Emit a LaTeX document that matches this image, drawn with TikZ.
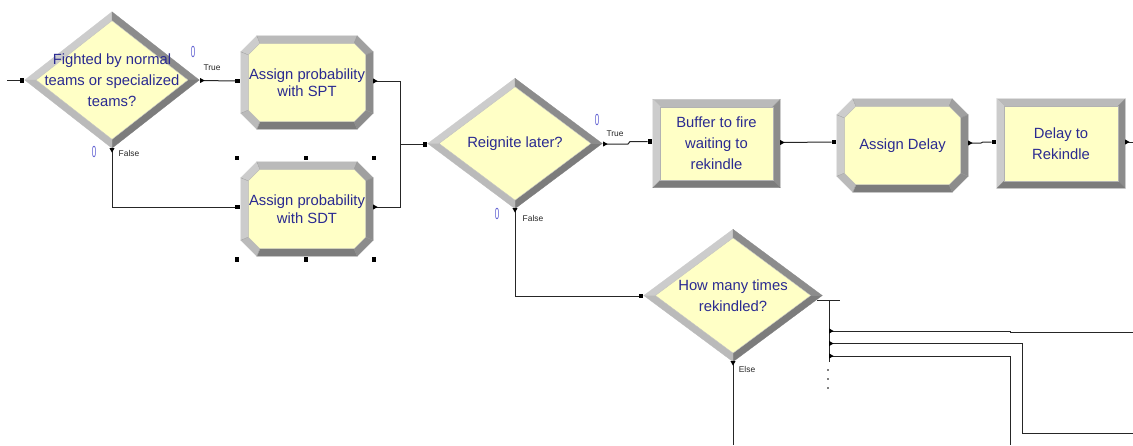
\documentclass[tikz,border=0pt]{standalone}
\usepackage{fontspec}
\setmainfont{Liberation Sans}
\usetikzlibrary{calc,backgrounds}

\definecolor{modfill}{RGB}{255,255,198}
\definecolor{modtext}{RGB}{42,42,145}
\definecolor{bvA}{RGB}{204,204,204}
\definecolor{bvB}{RGB}{186,186,186}
\definecolor{bvC}{RGB}{160,160,160}
\definecolor{bvD}{RGB}{140,140,140}
\definecolor{bvE}{RGB}{124,124,124}
\definecolor{cntcol}{RGB}{96,96,210}

% bevel widths
\def\bw{7.5}
\def\oc{16}
\def\oi{19.1}

\tikzset{
  module/.style={draw=none, inner sep=0pt, text=modtext, align=center,
                 font=\fontsize{14.8}{21}\selectfont},
  tight/.style={font=\fontsize{14.8}{17.5}\selectfont},
  face/.style={fill=#1, draw=#1, line width=0.3pt},
  entrypt/.style={fill=black, draw=none, minimum size=4.5pt, inner sep=0pt},
  handle/.style={fill=black, draw=none, minimum size=4.5pt, inner sep=0pt},
  link/.style={draw=black!85, line width=1pt},
  cnt/.style={text=cntcol, inner sep=0pt, font=\fontsize{16}{16}\selectfont},
  branch/.style={text=black!85, inner sep=0pt, font=\fontsize{8.4}{9}\selectfont},
  exitR/.pic={\fill[black] (0,-2.6) -- (4.6,0) -- (0,2.6) -- cycle;},
  exitD/.pic={\fill[black] (-2.6,0) -- (0,4.6) -- (2.6,0) -- cycle;},
}

% rectangular module frame
\newcommand{\rectbevel}[1]{%
  \coordinate (#1-a) at (#1.north west);
  \coordinate (#1-b) at (#1.north east);
  \coordinate (#1-c) at (#1.south east);
  \coordinate (#1-d) at (#1.south west);
  \coordinate (#1-ai) at ($(#1-a)+(\bw,\bw)$);
  \coordinate (#1-bi) at ($(#1-b)+(-\bw,\bw)$);
  \coordinate (#1-ci) at ($(#1-c)+(-\bw,-\bw)$);
  \coordinate (#1-di) at ($(#1-d)+(\bw,-\bw)$);
  \path[face=bvB] (#1-a) -- (#1-b) -- (#1-bi) -- (#1-ai) -- cycle;
  \path[face=bvA] (#1-a) -- (#1-ai) -- (#1-di) -- (#1-d) -- cycle;
  \path[face=bvD] (#1-b) -- (#1-c) -- (#1-ci) -- (#1-bi) -- cycle;
  \path[face=bvE] (#1-d) -- (#1-di) -- (#1-ci) -- (#1-c) -- cycle;
  \filldraw[fill=modfill, draw=black!30, line width=0.4pt]
    (#1-ai) rectangle (#1-ci);
}

% octagonal module frame
\newcommand{\octbevel}[1]{%
  \coordinate (#1-1) at ($(#1.north west)+(\oc,0)$);
  \coordinate (#1-2) at ($(#1.north east)+(-\oc,0)$);
  \coordinate (#1-3) at ($(#1.north east)+(0,\oc)$);
  \coordinate (#1-4) at ($(#1.south east)+(0,-\oc)$);
  \coordinate (#1-5) at ($(#1.south east)+(-\oc,0)$);
  \coordinate (#1-6) at ($(#1.south west)+(\oc,0)$);
  \coordinate (#1-7) at ($(#1.south west)+(0,-\oc)$);
  \coordinate (#1-8) at ($(#1.north west)+(0,\oc)$);
  \coordinate (#1-1i) at ($(#1.north west)+(\oi,\bw)$);
  \coordinate (#1-2i) at ($(#1.north east)+(-\oi,\bw)$);
  \coordinate (#1-3i) at ($(#1.north east)+(-\bw,\oi)$);
  \coordinate (#1-4i) at ($(#1.south east)+(-\bw,-\oi)$);
  \coordinate (#1-5i) at ($(#1.south east)+(-\oi,-\bw)$);
  \coordinate (#1-6i) at ($(#1.south west)+(\oi,-\bw)$);
  \coordinate (#1-7i) at ($(#1.south west)+(\bw,-\oi)$);
  \coordinate (#1-8i) at ($(#1.north west)+(\bw,\oi)$);
  \path[face=bvB] (#1-1) -- (#1-2) -- (#1-2i) -- (#1-1i) -- cycle;
  \path[face=bvC] (#1-2) -- (#1-3) -- (#1-3i) -- (#1-2i) -- cycle;
  \path[face=bvD] (#1-3) -- (#1-4) -- (#1-4i) -- (#1-3i) -- cycle;
  \path[face=bvD] (#1-4) -- (#1-5) -- (#1-5i) -- (#1-4i) -- cycle;
  \path[face=bvE] (#1-5) -- (#1-6) -- (#1-6i) -- (#1-5i) -- cycle;
  \path[face=bvB] (#1-6) -- (#1-7) -- (#1-7i) -- (#1-6i) -- cycle;
  \path[face=bvA] (#1-7) -- (#1-8) -- (#1-8i) -- (#1-7i) -- cycle;
  \path[face=bvA] (#1-8) -- (#1-1) -- (#1-1i) -- (#1-8i) -- cycle;
  \draw[black!40, line width=0.3pt] (#1-1) -- (#1-1i) (#1-2) -- (#1-2i)
    (#1-3) -- (#1-3i) (#1-4) -- (#1-4i) (#1-5) -- (#1-5i) (#1-6) -- (#1-6i)
    (#1-7) -- (#1-7i) (#1-8) -- (#1-8i);
  \filldraw[fill=modfill, draw=black!30, line width=0.4pt]
    (#1-1i) -- (#1-2i) -- (#1-3i) -- (#1-4i) -- (#1-5i) -- (#1-6i)
    -- (#1-7i) -- (#1-8i) -- cycle;
}

% decide (diamond) frame; #2 = inner scale
\newcommand{\diabevel}[2]{%
  \coordinate (#1-n) at (#1.north);
  \coordinate (#1-e) at (#1.east);
  \coordinate (#1-s) at (#1.south);
  \coordinate (#1-w) at (#1.west);
  \coordinate (#1-ni) at ($(#1.center)!#2!(#1.north)$);
  \coordinate (#1-ei) at ($(#1.center)!#2!(#1.east)$);
  \coordinate (#1-si) at ($(#1.center)!#2!(#1.south)$);
  \coordinate (#1-wi) at ($(#1.center)!#2!(#1.west)$);
  \path[face=bvA] (#1-w) -- (#1-n) -- (#1-ni) -- (#1-wi) -- cycle;
  \path[face=bvD] (#1-n) -- (#1-e) -- (#1-ei) -- (#1-ni) -- cycle;
  \path[face=bvE] (#1-e) -- (#1-s) -- (#1-si) -- (#1-ei) -- cycle;
  \path[face=bvB] (#1-s) -- (#1-w) -- (#1-wi) -- (#1-si) -- cycle;
  \filldraw[fill=modfill, draw=black!25, line width=0.4pt]
    (#1-wi) -- (#1-ni) -- (#1-ei) -- (#1-si) -- cycle;
}

\begin{document}
\begin{tikzpicture}[x=1pt,y=-1pt]
\begin{pgfonlayer}{background}
  \fill[white] (0,0) rectangle (1133,445);
\end{pgfonlayer}
\useasboundingbox (0,0) rectangle (1133,445);

% ---- modules ----
\node[module, minimum width=174pt, minimum height=136pt] (fight) at (112,80)
  {Fighted by normal\\teams or specialized\\teams?};
\node[module, tight, minimum width=132pt, minimum height=93pt] (spt) at (307,82.5)
  {Assign probability\\with SPT};
\node[module, tight, minimum width=132pt, minimum height=94pt] (sdt) at (307,209)
  {Assign probability\\with SDT};
\node[module, minimum width=174pt, minimum height=130pt] (reig) at (515,143.5)
  {Reignite later?};
\node[module, minimum width=127pt, minimum height=88pt] (buf) at (716.5,143.5)
  {Buffer to fire\\waiting to\\rekindle};
\node[module, minimum width=131pt, minimum height=93pt] (adel) at (902.5,145.5)
  {Assign Delay};
\node[module, minimum width=128pt, minimum height=89pt] (dly) at (1061,143.5)
  {Delay to\\Rekindle};
\node[module, minimum width=178pt, minimum height=132pt] (howm) at (733,295.5)
  {How many times\\rekindled?};

\begin{pgfonlayer}{background}
  \diabevel{fight}{0.87}
  \octbevel{spt}
  \octbevel{sdt}
  \diabevel{reig}{0.87}
  \rectbevel{buf}
  \octbevel{adel}
  \rectbevel{dly}
  \diabevel{howm}{0.87}
\end{pgfonlayer}

% ---- entry and exit points ----
\node[entrypt] (fightIn) at (22,80.5) {};
\node[entrypt] (sptIn) at (237.5,81) {};
\node[entrypt] (sdtIn) at (237.5,207) {};
\node[entrypt] (reigIn) at (425,144.5) {};
\node[entrypt] (bufIn) at (650,141.5) {};
\node[entrypt] (adelIn) at (834,142) {};
\node[entrypt] (dlyIn) at (994,142) {};
\node[entrypt] (howmIn) at (641,296) {};

\coordinate (fightT) at (200,80.5);
\coordinate (fightF) at (112,148);
\coordinate (sptOut) at (373,81);
\coordinate (sdtOut) at (373,207);
\coordinate (reigT) at (603,144);
\coordinate (reigF) at (515,208);
\coordinate (bufOut) at (780,142.5);
\coordinate (adelOut) at (968,143);
\coordinate (dlyOut) at (1125,142);
\coordinate (howmE) at (733,361);
\coordinate (hb1) at (829,331);
\coordinate (hb2) at (829,343.5);
\coordinate (hb3) at (829,356);

\coordinate (srcL) at (7,80.5);
\coordinate (merge) at (400,144.5);
\coordinate (dlyEnd) at (1133,142);
\coordinate (elseEnd) at (733,445);
\coordinate (tA) at (817,300.5);
\coordinate (tB) at (840,300.5);
\coordinate (tC) at (829,362);
\coordinate (b1End) at (1133,332);
\coordinate (b2End) at (1133,433);
\coordinate (b3End) at (1010,445);

% ---- connectors ----
\draw[link] (srcL) -- (fightIn);
\draw[link] (fightT) -- (sptIn);
\draw[link] (fightF) |- (sdtIn);
\draw[link] (sptOut) -| (merge);
\draw[link] (sdtOut) -| (merge);
\draw[link] (merge) -- (reigIn);
\draw[link] (reigT) -- (628,144) -- (630,141.5) -- (bufIn);
\draw[link] (reigF) |- (howmIn);
\draw[link] (bufOut) -- (adelIn);
\draw[link] (adelOut) -- (981,143) -- (983,142) -- (dlyIn);
\draw[link] (dlyOut) -- (dlyEnd);
\draw[link] (howmE) -- (elseEnd);
\draw[link] (tA) -- (tB);
\draw[link] (tA -| tC) -- (tC);
\draw[link] (hb1) -- (1010,331) -- (1010,332) -- (b1End);
\draw[link] (hb2) -- (1022,343.5) -- (1022,433) -- (b2End);
\draw[link] (hb3) -- (1010,356) |- (b3End);
\foreach \yy in {370,379,388} \fill[black] (828,\yy) circle (0.8);

\foreach \p in {fightT,sptOut,sdtOut,reigT,bufOut,adelOut,dlyOut,hb1,hb2,hb3}
  \pic at (\p) {exitR};
\foreach \p in {fightF,reigF,howmE}
  \pic at (\p) {exitD};

% ---- counters and branch labels ----
\node[cnt] (c1) at (193,52) {\scalebox{0.5}[1]{0}};
\node[cnt] (c2) at (94,152) {\scalebox{0.5}[1]{0}};
\node[cnt] (c3) at (597,120) {\scalebox{0.5}[1]{0}};
\node[cnt] (c4) at (497,214) {\scalebox{0.5}[1]{0}};
\node[branch] (l1) at (212,68) {True};
\node[branch] (l2) at (129,153) {False};
\node[branch] (l3) at (615,134) {True};
\node[branch] (l4) at (533,218) {False};
\node[branch] (l5) at (747,369) {Else};

% ---- selection handles ----
\foreach \hx in {237,306,374}
  \foreach \hy in {158,259.5}
    \node[handle] at (\hx,\hy) {};
\end{tikzpicture}
\end{document}
